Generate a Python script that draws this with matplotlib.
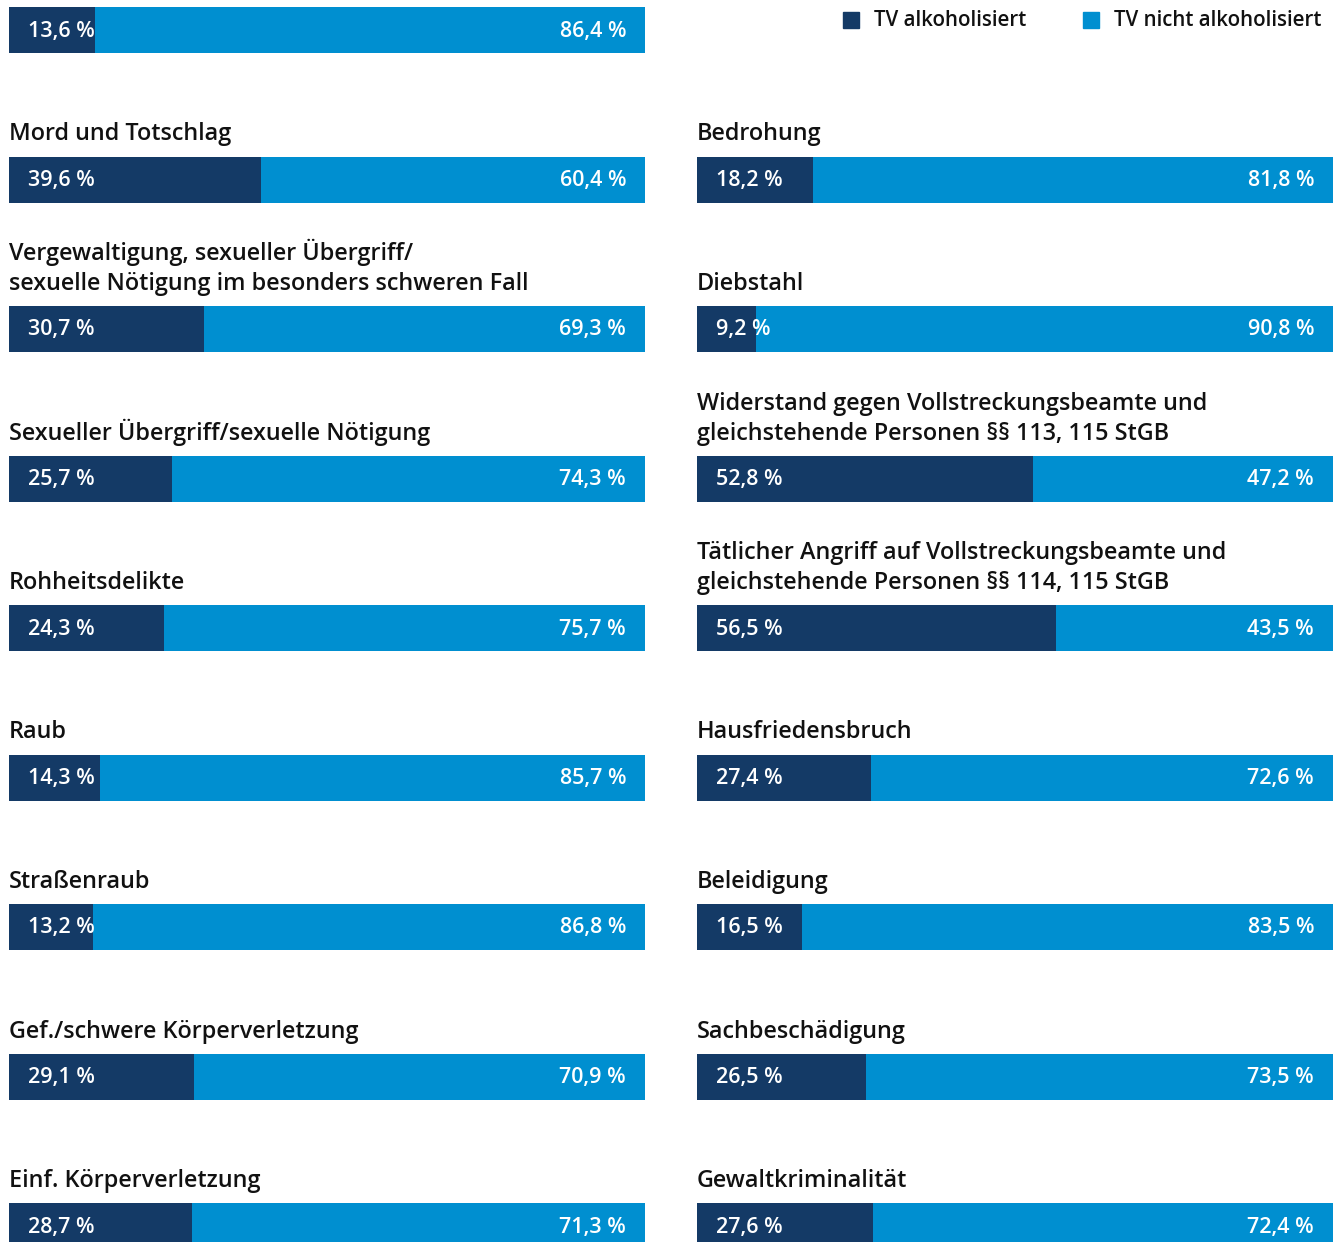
import matplotlib.pyplot as plt
from matplotlib.patches import Rectangle

plt.rcParams['font.family'] = ['Open Sans', 'DejaVu Sans']

# data
left_titles = ['', 'Mord und Totschlag',
               'Vergewaltigung, sexueller Übergriff/\nsexuelle Nötigung im besonders schweren Fall',
               'Sexueller Übergriff/sexuelle Nötigung', 'Rohheitsdelikte', 'Raub',
               'Straßenraub', 'Gef./schwere Körperverletzung', 'Einf. Körperverletzung']
left_alk = [13.6, 39.6, 30.7, 25.7, 24.3, 14.3, 13.2, 29.1, 28.7]
left_nalk = [86.4, 60.4, 69.3, 74.3, 75.7, 85.7, 86.8, 70.9, 71.3]

right_titles = ['Bedrohung', 'Diebstahl',
                'Widerstand gegen Vollstreckungsbeamte und\ngleichstehende Personen §§ 113, 115 StGB',
                'Tätlicher Angriff auf Vollstreckungsbeamte und\ngleichstehende Personen §§ 114, 115 StGB',
                'Hausfriedensbruch', 'Beleidigung', 'Sachbeschädigung', 'Gewaltkriminalität']
right_alk = [18.2, 9.2, 52.8, 56.5, 27.4, 16.5, 26.5, 27.6]
right_nalk = [81.8, 90.8, 47.2, 43.5, 72.6, 83.5, 73.5, 72.4]

legend_labels = ['TV alkoholisiert', 'TV nicht alkoholisiert']

DARK = '#143a66'
LIGHT = '#008fd0'
W, H = 1344, 1242
fig = plt.figure(figsize=(W / 100, H / 100), dpi=100)
ax = fig.add_axes([0, 0, 1, 1])
ax.set_xlim(0, W)
ax.set_ylim(H, 0)
ax.axis('off')

bar_w = 636
bar_h = 46
step = 149.5
top0 = 7


def fmt(v):
    return ('%.1f' % v).replace('.', ',') + ' %'


def draw_col(x0, titles, alk, nalk, row0):
    for i, (t, a, n) in enumerate(zip(titles, alk, nalk)):
        top = top0 + (i + row0) * step
        yc = top + bar_h / 2
        ax.barh(yc, a * bar_w / 100, left=x0, height=bar_h, color=DARK)
        ax.barh(yc, n * bar_w / 100, left=x0 + a * bar_w / 100, height=bar_h, color=LIGHT)
        ax.text(x0 + 19, yc + 1, fmt(a), color='white', fontsize=15.5, fontweight='semibold',
                va='center', ha='left')
        ax.text(x0 + bar_w - 19, yc + 1, fmt(n), color='white', fontsize=15.5, fontweight='semibold',
                va='center', ha='right')
        if t:
            ax.text(x0, top - 10, t, color='#111111', fontsize=16.8, fontweight='semibold',
                    va='bottom', ha='left', linespacing=1.32)


draw_col(9, left_titles, left_alk, left_nalk, 0)
draw_col(697, right_titles, right_alk, right_nalk, 1)

# legend
for lx, lab, col in zip([843, 1083], legend_labels, [DARK, LIGHT]):
    ax.add_patch(Rectangle((lx, 12), 16, 16, color=col))
    ax.text(lx + 31, 20, lab, fontsize=14.8, fontweight='semibold', color='#111111',
            va='center', ha='left')

fig.savefig('out.png', dpi=100)
